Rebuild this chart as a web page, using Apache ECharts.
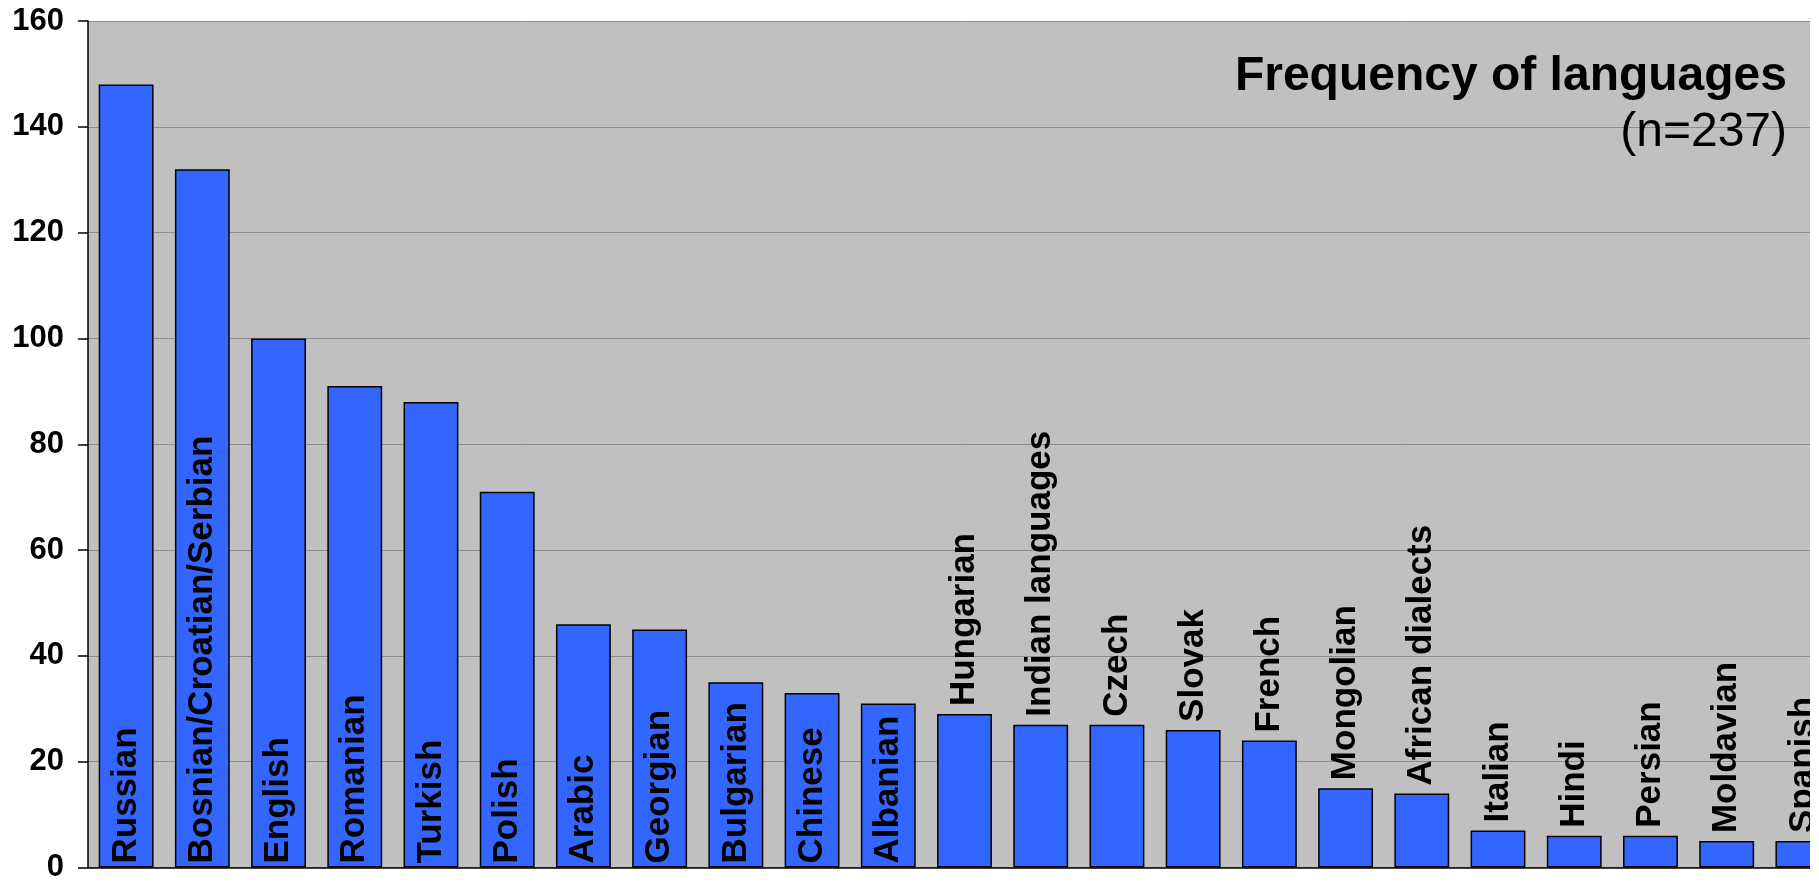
<!DOCTYPE html>
<html>
<head>
<meta charset="utf-8">
<script src="https://cdn.jsdelivr.net/npm/echarts@6/dist/echarts.min.js"></script>
<style>
  html, body { margin: 0; padding: 0; background: #fff; overflow: hidden; }
  /* the original plot is cut off at the right edge, so clip the chart there */
  #wrap { width: 1810px; height: 883px; overflow: hidden; }
  #chart { width: 1860px; height: 883px; }
</style>
</head>
<body>
<div id="wrap"><div id="chart"></div></div>
<script>
var languages = ['Russian', 'Bosnian/Croatian/Serbian', 'English', 'Romanian', 'Turkish', 'Polish',
  'Arabic', 'Georgian', 'Bulgarian', 'Chinese', 'Albanian', 'Hungarian', 'Indian languages',
  'Czech', 'Slovak', 'French', 'Mongolian', 'African dialects', 'Italian', 'Hindi', 'Persian',
  'Moldavian', 'Spanish'];
var counts = [148, 132, 100, 91, 88, 71, 46, 45, 35, 33, 31, 29, 27, 27, 26, 24, 15, 14, 7, 6, 6, 5, 5];
var chartTitle = 'Frequency of languages';
var chartSubtitle = '(n=237)';

var font = '"Liberation Sans", Arial, sans-serif';

// labels go inside the bar when they fit, otherwise on top of it
var barData = counts.map(function (v) {
  var inside = v >= 30;
  return {
    value: v,
    label: inside
      ? { position: 'insideBottom', distance: 1 }
      : { position: 'top', distance: 5 }
  };
});

var option = {
  animation: false,
  title: [{
    text: chartTitle,
    right: 68,
    top: 48,
    textStyle: { fontSize: 48, fontWeight: 'bold', color: '#000', fontFamily: font }
  }, {
    text: chartSubtitle,
    right: 68,
    top: 104,
    textStyle: { fontSize: 48, fontWeight: 'normal', color: '#000', fontFamily: font }
  }],
  grid: {
    left: 88,
    top: 21,
    width: 1753,
    height: 850,
    show: true,
    backgroundColor: '#c0c0c0',
    borderWidth: 0
  },
  xAxis: {
    type: 'category',
    data: languages,
    axisLine: { lineStyle: { color: '#000', width: 1.5 } },
    axisTick: { length: 10, lineStyle: { color: '#333', width: 1.5 } },
    axisLabel: { show: false }
  },
  yAxis: {
    type: 'value',
    min: 0,
    max: 160,
    interval: 20,
    axisLine: { show: true, lineStyle: { color: '#000', width: 1.5 } },
    axisTick: { show: true, length: 10, lineStyle: { color: '#000', width: 1.5 } },
    axisLabel: { fontSize: 31, fontWeight: 'bold', color: '#000', margin: 24, fontFamily: font },
    splitLine: { lineStyle: { color: '#8c8c8c', width: 1 } }
  },
  series: [{
    type: 'bar',
    data: barData,
    barCategoryGap: '28%',
    itemStyle: { color: '#3366ff', borderColor: '#000', borderWidth: 1.5 },
    label: {
      show: true,
      formatter: '{b}',
      rotate: 90,
      align: 'left',
      verticalAlign: 'middle',
      offset: [3, 0],
      fontSize: 35,
      fontWeight: 'bold',
      color: '#000',
      fontFamily: font
    }
  }]
};

var chart = echarts.init(document.getElementById('chart'));
chart.setOption(option);
</script>
</body>
</html>
